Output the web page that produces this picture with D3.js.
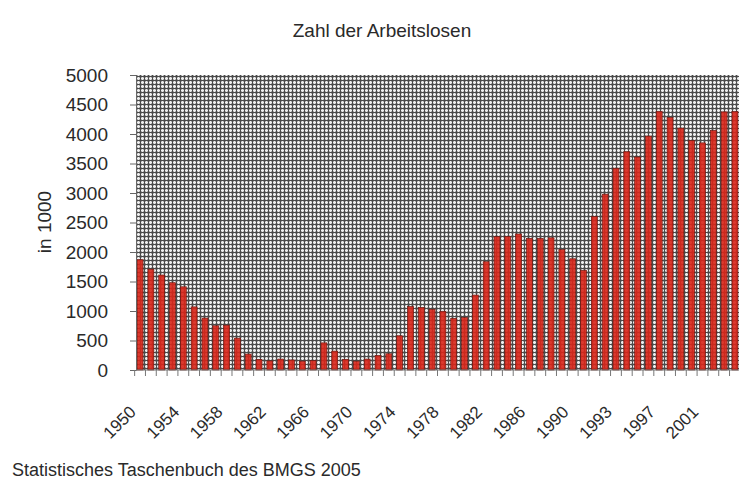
<!DOCTYPE html>
<html>
<head>
<meta charset="utf-8">
<script src="https://cdn.jsdelivr.net/npm/d3@7"></script>
<style>
  body { margin: 0; background: #fff; }
  text { font-family: "Liberation Sans", Arial, sans-serif; fill: #2a2a2a; }
</style>
</head>
<body>
<div id="chart"></div>
<script>
// categories (1991 appears twice: West only, then all of Germany)
const years = ["1950","1951","1952","1953","1954","1955","1956","1957","1958","1959",
  "1960","1961","1962","1963","1964","1965","1966","1967","1968","1969",
  "1970","1971","1972","1973","1974","1975","1976","1977","1978","1979",
  "1980","1981","1982","1983","1984","1985","1986","1987","1988","1989",
  "1990","1991W","1991","1992","1993","1994","1995","1996","1997","1998",
  "1999","2000","2001","2002","2003","2004"];

// unemployed, in 1000
const unemployed = [1870,1710,1610,1480,1410,1070,880,750,760,540,
  270,180,155,185,170,150,160,460,320,180,
  150,185,245,275,580,1075,1060,1030,995,875,
  890,1270,1835,2260,2265,2305,2230,2230,2240,2040,
  1885,1690,2600,2980,3420,3700,3610,3965,4385,4280,
  4100,3890,3850,4060,4375,4380];

const yTicks = [0,500,1000,1500,2000,2500,3000,3500,4000,4500,5000];
// every 4th category gets a label
const xLabels = ["1950","1954","1958","1962","1966","1970","1974","1978","1982","1986","1990","1993","1997","2001"];
const labelIdx = [0,4,8,12,16,20,24,28,32,36,40,44,48,52];

const W = 739, H = 488;
const plot = { left: 136, right: 739, top: 75, bottom: 370 };

const svg = d3.select("#chart").append("svg")
    .attr("width", W)
    .attr("height", H);

// fine grid fill of the plot area
const defs = svg.append("defs");
const pat = defs.append("pattern")
    .attr("id", "grid")
    .attr("patternUnits", "userSpaceOnUse")
    .attr("width", 4).attr("height", 4);
pat.append("rect").attr("width", 4).attr("height", 4).attr("fill", "#ababab");
pat.append("rect").attr("x", 2).attr("y", 0).attr("width", 1).attr("height", 4).attr("fill", "#eeeeee");
pat.append("rect").attr("x", 0).attr("y", 2).attr("width", 4).attr("height", 1).attr("fill", "#eeeeee");
pat.append("rect").attr("x", 0).attr("y", 0).attr("width", 1).attr("height", 4).attr("fill", "#4a4a4a");
pat.append("rect").attr("x", 0).attr("y", 0).attr("width", 4).attr("height", 1).attr("fill", "#4a4a4a");

const x = d3.scaleBand().domain(years).range([plot.left, plot.right]).paddingInner(0.45).paddingOuter(0.1);
const y = d3.scaleLinear().domain([0, 5000]).range([plot.bottom, plot.top]);

svg.append("rect")
    .attr("x", plot.left).attr("y", plot.top)
    .attr("width", plot.right - plot.left).attr("height", plot.bottom - plot.top)
    .attr("fill", "url(#grid)");

// bars
svg.append("g").selectAll("rect")
    .data(unemployed)
    .join("rect")
    .attr("x", (d, i) => x(years[i]))
    .attr("y", d => y(d))
    .attr("width", x.bandwidth())
    .attr("height", d => y(0) - y(d))
    .attr("fill", "#d8261a")
    .attr("fill-opacity", 0.9)
    .attr("stroke", "#6e1810")
    .attr("stroke-width", 0.7);

// Y axis
const yAxis = svg.append("g")
    .attr("transform", "translate(" + plot.left + ",0)")
    .call(d3.axisLeft(y).tickValues(yTicks).tickSize(6).tickPadding(22).tickFormat(d3.format("d")));
yAxis.select(".domain").attr("stroke", "#666");
yAxis.selectAll(".tick line").attr("stroke", "#666");
yAxis.selectAll("text").style("font-size", "19px").attr("fill", "#2a2a2a");

// X axis: ticks on category boundaries
const step = x.step();
const boundaries = years.map(d => x(d) - x.paddingInner() * step / 2);
const xg = svg.append("g");
xg.append("line")
    .attr("x1", plot.left).attr("x2", plot.right)
    .attr("y1", plot.bottom).attr("y2", plot.bottom)
    .attr("stroke", "#777");
xg.selectAll("line.tk")
    .data(boundaries)
    .join("line")
    .attr("class", "tk")
    .attr("x1", d => d).attr("x2", d => d)
    .attr("y1", plot.bottom).attr("y2", plot.bottom + 6)
    .attr("stroke", "#777");

xg.selectAll("text")
    .data(xLabels)
    .join("text")
    .attr("text-anchor", "end")
    .attr("transform", (d, i) => {
        const cx = x(years[labelIdx[i]]) + x.bandwidth() / 2 - 3;
        return "translate(" + cx + "," + (plot.bottom + 43) + ") rotate(-45)";
    })
    .style("font-size", "17px")
    .text(d => d);

// title
svg.append("text")
    .attr("x", 382).attr("y", 37)
    .attr("text-anchor", "middle")
    .style("font-size", "19px")
    .text("Zahl der Arbeitslosen");

// Y axis label
svg.append("text")
    .attr("text-anchor", "middle")
    .attr("transform", "translate(51,222) rotate(-90)")
    .style("font-size", "19px")
    .text("in 1000");

// source
svg.append("text")
    .attr("x", 12).attr("y", 476)
    .style("font-size", "18px")
    .text("Statistisches Taschenbuch des BMGS 2005");
</script>
</body>
</html>
